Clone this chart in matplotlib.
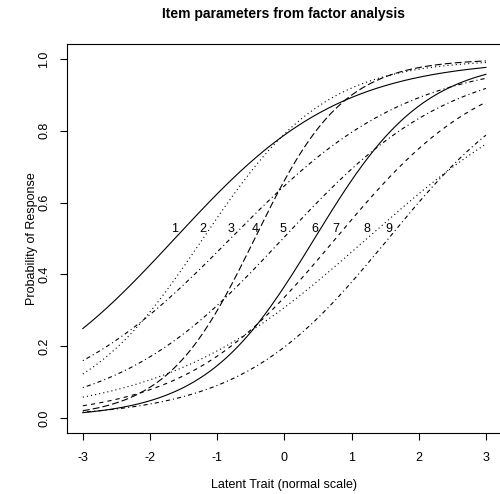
import numpy as np
import matplotlib
matplotlib.use("Agg")
import matplotlib.pyplot as plt

plt.rcParams["font.family"] = ["Liberation Sans", "DejaVu Sans"]
plt.rcParams["lines.scale_dashes"] = False

# item parameters
items = ["1", "2", "3", "4", "5", "6", "7", "8", "9"]
location = [-1.63, -1.21, -0.80, -0.44, -0.02, 0.45, 0.765, 1.23, 1.55]
slope = [0.806, 1.10, 0.755, 1.52, 0.80, 1.22, 0.89, 0.66, 0.905]
styles = ["solid", "dotted", "dotdash", "longdash", "dotdash",
          "solid", "dashed", "dotted", "dotdash"]
label_height = 0.526

# R-like dash patterns (in points, ~0.72 pt per pixel)
dash = {
    "solid": "-",
    "dashed": (0, (3.0, 3.0)),
    "dotted": (0, (0.8, 2.2)),
    "dotdash": (0, (0.8, 2.2, 3.0, 2.2)),
    "longdash": (0, (5.0, 2.2)),
}

theta = np.linspace(-3, 3, 301)

fig = plt.figure(figsize=(5.0, 4.94), dpi=100)
ax = fig.add_axes([0.1334, 0.1235, 0.8706, 0.7875])

for i in range(len(items)):
    p = 1 / (1 + np.exp(-slope[i] * (theta - location[i])))
    ax.plot(theta, p, color="black", lw=0.8, linestyle=dash[styles[i]])
    ax.text(location[i], label_height, items[i], ha="center", va="center",
            fontsize=9)

ax.set_xlim(-3.24, 3.24)
ax.set_ylim(-0.042, 1.042)
ax.set_xticks([-3, -2, -1, 0, 1, 2, 3])
ax.set_xticklabels(["-3", "-2", "-1", "0", "1", "2", "3"])
ax.set_yticks([0.0, 0.2, 0.4, 0.6, 0.8, 1.0])
ax.set_yticklabels(["0.0", "0.2", "0.4", "0.6", "0.8", "1.0"],
                   rotation=90, va="center")
ax.tick_params(direction="out", length=5, width=0.8, labelsize=9)
ax.tick_params(axis="x", pad=9)
ax.tick_params(axis="y", pad=7)
for s in ax.spines.values():
    s.set_linewidth(0.8)

ax.set_xlabel("Latent Trait (normal scale)", fontsize=9, labelpad=10.5)
ax.set_ylabel("Probability of Response", fontsize=9, labelpad=0)
fig.text(0.5663, 0.972, "Item parameters from factor analysis",
         ha="center", va="center", fontsize=10, fontweight="bold")

fig.savefig("out.png", dpi=100)
